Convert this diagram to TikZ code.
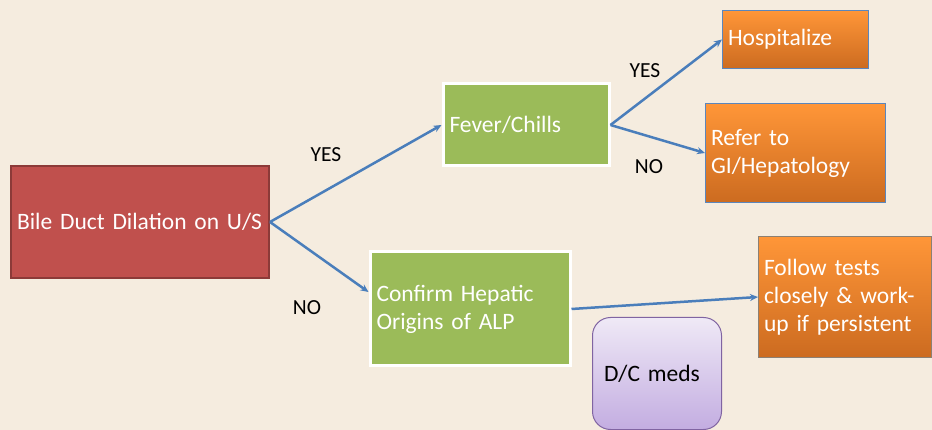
\documentclass[tikz,border=0pt]{standalone}
\usepackage{fontspec}
\setmainfont{Carlito}
\usetikzlibrary{arrows.meta}
\definecolor{bg}{HTML}{F5ECDF}
\definecolor{redfill}{HTML}{C0504D}
\definecolor{redline}{HTML}{8C3A38}
\definecolor{greenfill}{HTML}{9BBB59}
\definecolor{orangetop}{HTML}{FF9638}
\definecolor{orangebot}{HTML}{CC6B20}
\definecolor{orangeline}{HTML}{5B86BC}
\definecolor{purpletop}{HTML}{EFE9F6}
\definecolor{purplebot}{HTML}{C3ADE1}
\definecolor{purpleline}{HTML}{8064A2}
\definecolor{arrowblue}{HTML}{4A7EBB}
\tikzset{
  box/.style={rectangle, anchor=north west, align=left, inner xsep=5pt, inner ysep=0pt,
    font=\fontsize{23.5}{28}\selectfont, text=white},
  redbox/.style={box, fill=redfill, draw=redline, line width=2pt},
  greenbox/.style={box, fill=greenfill, draw=white, line width=3pt},
  orangebox/.style={box, top color=orangetop, bottom color=orangebot, draw=orangeline, line width=1pt},
  purplebox/.style={box, rounded corners=18pt, top color=purpletop, bottom color=purplebot, draw=purpleline, line width=1pt, text=black, inner xsep=11pt},
  lbl/.style={font=\fontsize{21.5}{25}\selectfont, text=black, inner sep=0pt},
  conn/.style={draw=arrowblue, line width=2.5pt, -{Stealth[length=8pt,width=7pt]}}
}
\begin{document}
\begin{tikzpicture}[x=1pt,y=-1pt]
\fill[bg] (0,0) rectangle (932,430);
\useasboundingbox (0,0) rectangle (932,430);
\node[redbox, minimum width=258pt, minimum height=112pt, text width=246pt] (bile) at (10,165) {Bile Duct Dilation on U/S};
\node[greenbox, minimum width=166pt, minimum height=82pt, text width=153pt] (fever) at (441.5,82.5) {Fever/Chills};
\node[greenbox, minimum width=200pt, minimum height=114pt, text width=187pt] (confirm) at (368.5,250.5) {Confirm Hepatic\\Origins of ALP};
\node[orangebox, minimum width=146pt, minimum height=58pt, text width=135pt] (hosp) at (722,10) {Hospitalize};
\node[orangebox, minimum width=180pt, minimum height=99pt, text width=169pt] (refer) at (705,103) {Refer to\\GI/Hepatology};
\node[orangebox, draw=gray!80!brown, minimum width=173pt, minimum height=121pt, text width=162pt] (follow) at (758,236) {Follow tests\\closely \& work-\\up if persistent};
\node[purplebox, minimum width=129pt, minimum height=112pt, text width=106pt] (dc) at (592,317) {D/C meds};
\node[lbl] (yes1) at (326,155) {YES};
\node[lbl] (no1) at (307,308) {NO};
\node[lbl] (yes2) at (645,71) {YES};
\node[lbl] (no2) at (649,167) {NO};
\draw[conn] (bile.east) -- (fever.west);
\draw[conn] (bile.east) -- ([yshift=17pt]confirm.west);
\draw[conn] (fever.east) -- (hosp.west);
\draw[conn] (fever.east) -- (refer.west);
\draw[conn] (confirm.east) -- (follow.west);
\end{tikzpicture}
\end{document}
